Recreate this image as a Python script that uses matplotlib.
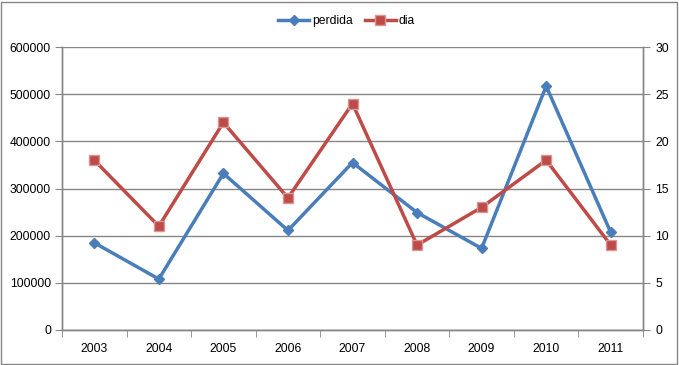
import numpy as np
import matplotlib.pyplot as plt
from matplotlib.patches import Rectangle

# dados
anos = ['2003', '2004', '2005', '2006', '2007', '2008', '2009', '2010', '2011']
perdida = [185000, 108000, 332000, 211000, 355000, 249000, 173000, 517000, 207000]
dia = [18, 11, 22, 14, 24, 9, 13, 18, 9]

azul = '#4A7EBB'
vermelho = '#BE4B48'
cinza = '#868686'
fonte = 'Liberation Sans'

fig = plt.figure(figsize=(6.79, 3.65), dpi=100)
ax = fig.add_axes([62/679, 35/365, 581/679, 283/365])
ax2 = ax.twinx()

x = np.arange(len(anos))
ax.plot(x, perdida, color=azul, lw=2.5, marker='D', ms=5, mfc=azul, mec=azul,
        label='perdida', zorder=3)
ax2.plot(x, dia, color=vermelho, lw=2.5, marker='s', ms=7, mfc=vermelho, mec='#D99694',
         label='dia', zorder=3)

ax.set_xlim(-0.5, len(anos) - 0.5)
ax.set_ylim(0, 600000)
ax2.set_ylim(0, 30)
ax.set_yticks(np.arange(0, 600001, 100000))
ax2.set_yticks(np.arange(0, 31, 5))
ax.set_xticks(x)
ax.set_xticklabels(anos)
ax.set_xticks(np.arange(-0.5, len(anos), 1), minor=True)
ax.tick_params(axis='x', which='major', length=0, pad=9)
ax.tick_params(axis='x', which='minor', length=5, color=cinza)
ax.tick_params(axis='y', length=5, color=cinza, pad=3)
ax2.tick_params(axis='y', length=5, color=cinza, pad=4)

for a in (ax, ax2):
    for lab in a.get_xticklabels() + a.get_yticklabels():
        lab.set_fontfamily(fonte)
        lab.set_fontsize(8.7)
    for s in a.spines.values():
        s.set_color(cinza)
        s.set_linewidth(1)
ax.spines['top'].set_visible(False)
ax2.spines['top'].set_visible(False)

ax.yaxis.grid(True, color=cinza, lw=1)
ax.set_axisbelow(True)

h1, l1 = ax.get_legend_handles_labels()
h2, l2 = ax2.get_legend_handles_labels()
fig.legend(h1 + h2, l1 + l2, loc='center', bbox_to_anchor=(0.51, 0.942), ncol=2,
           frameon=False, prop={'family': fonte, 'size': 8.7}, handlelength=2.6,
           columnspacing=1.0, handletextpad=0.2)

fig.patches.append(Rectangle((1/679, 1/365), 676/679, 362/365, transform=fig.transFigure,
                             fill=False, edgecolor=cinza, lw=1))

fig.savefig('out.png', dpi=100)
